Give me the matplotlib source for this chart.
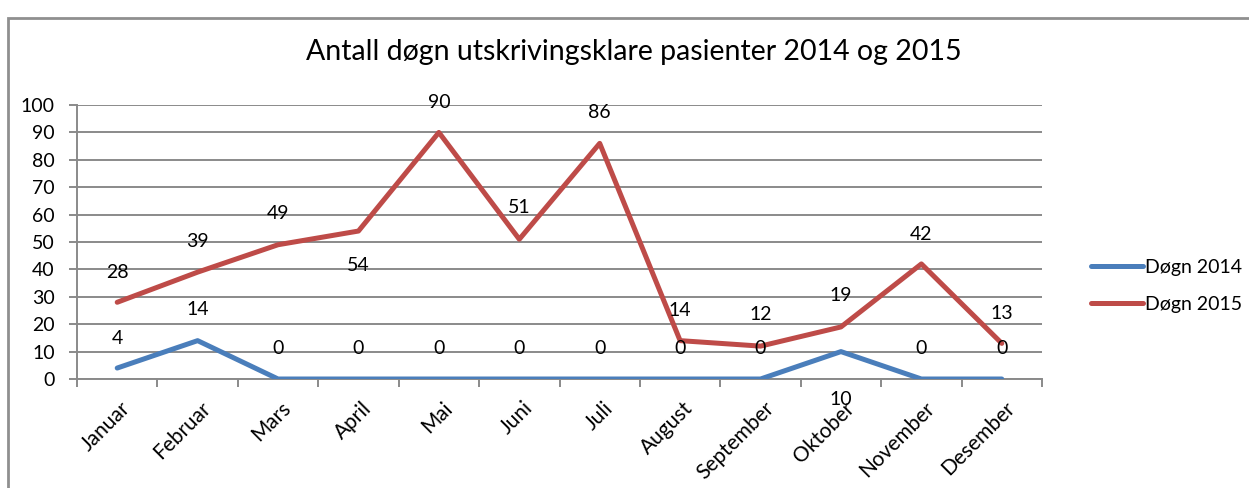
import matplotlib.pyplot as plt
from matplotlib.patches import Rectangle

months = ["Januar", "Februar", "Mars", "April", "Mai", "Juni", "Juli",
          "August", "September", "Oktober", "November", "Desember"]
dogn_2014 = [4, 14, 0, 0, 0, 0, 0, 0, 0, 10, 0, 0]
dogn_2015 = [28, 39, 49, 54, 90, 51, 86, 14, 12, 19, 42, 13]

# label offsets in pixels (Excel placed a couple of labels below the point)
off_2014 = [30, 31, 31, 31, 31, 31, 31, 31, 31, -48, 31, 31]
off_2015 = [30, 31, 31, -34, 30, 32, 31, 30, 32, 31, 29, 30]

plt.rcParams["font.family"] = ["Lato", "DejaVu Sans"]

W, H = 1249, 488
fig = plt.figure(figsize=(W / 100, H / 100), dpi=100)
fig.patch.set_facecolor("white")

# outer chart border
fig.patches.append(Rectangle((8 / W, -0.1), 1.2, 1 - 18 / H + 0.1,
                             transform=fig.transFigure, fill=False,
                             edgecolor="#8f8f8f", linewidth=2))

ax = fig.add_axes([77 / W, 1 - 379 / H, (1042 - 77) / W, (379 - 105) / H])

x = list(range(len(months)))
ax.plot(x, dogn_2014, color="#4a7ebb", linewidth=3.6, label="Døgn 2014",
        solid_capstyle="round", zorder=3)
ax.plot(x, dogn_2015, color="#be4b48", linewidth=3.6, label="Døgn 2015",
        solid_capstyle="round", zorder=3)

for xi, v, o in zip(x, dogn_2014, off_2014):
    ax.annotate(str(v), (xi, v), xytext=(0, o), textcoords="offset pixels",
                ha="center", va="center", fontsize=14, zorder=4)
for xi, v, o in zip(x, dogn_2015, off_2015):
    ax.annotate(str(v), (xi, v), xytext=(0, o), textcoords="offset pixels",
                ha="center", va="center", fontsize=14, zorder=4)

ax.set_xlim(-0.5, len(months) - 0.5)
ax.set_ylim(0, 100)
ax.set_yticks(range(0, 101, 10))
ax.yaxis.grid(True, color="#8a8a8a", linewidth=1.4)
ax.set_axisbelow(True)
for s in ["top", "right"]:
    ax.spines[s].set_visible(False)
for s in ["left", "bottom"]:
    ax.spines[s].set_color("#8a8a8a")
    ax.spines[s].set_linewidth(1.4)

ax.set_xticks([i - 0.5 for i in range(len(months) + 1)])
ax.set_xticklabels([])
ax.tick_params(axis="x", length=6, color="#8a8a8a", width=1.4)
ax.tick_params(axis="y", length=6, color="#8a8a8a", width=1.4, labelsize=14, pad=10)

for xi, m in zip(x, months):
    ax.annotate(m, (xi, 0), xytext=(3, -19), textcoords="offset pixels",
                ha="right", va="top", rotation=45, rotation_mode="anchor",
                fontsize=15, annotation_clip=False)

fig.text(634 / W, 1 - 52 / H, "Antall døgn utskrivingsklare pasienter 2014 og 2015",
         ha="center", va="center", fontsize=20.5)

ax.legend(loc="center left", bbox_to_anchor=(1073 / W, 1 - 286 / H),
          bbox_transform=fig.transFigure, frameon=False, fontsize=14,
          handlelength=2.7, handletextpad=0.1, labelspacing=1.0)

fig.savefig("out.png", dpi=100)
